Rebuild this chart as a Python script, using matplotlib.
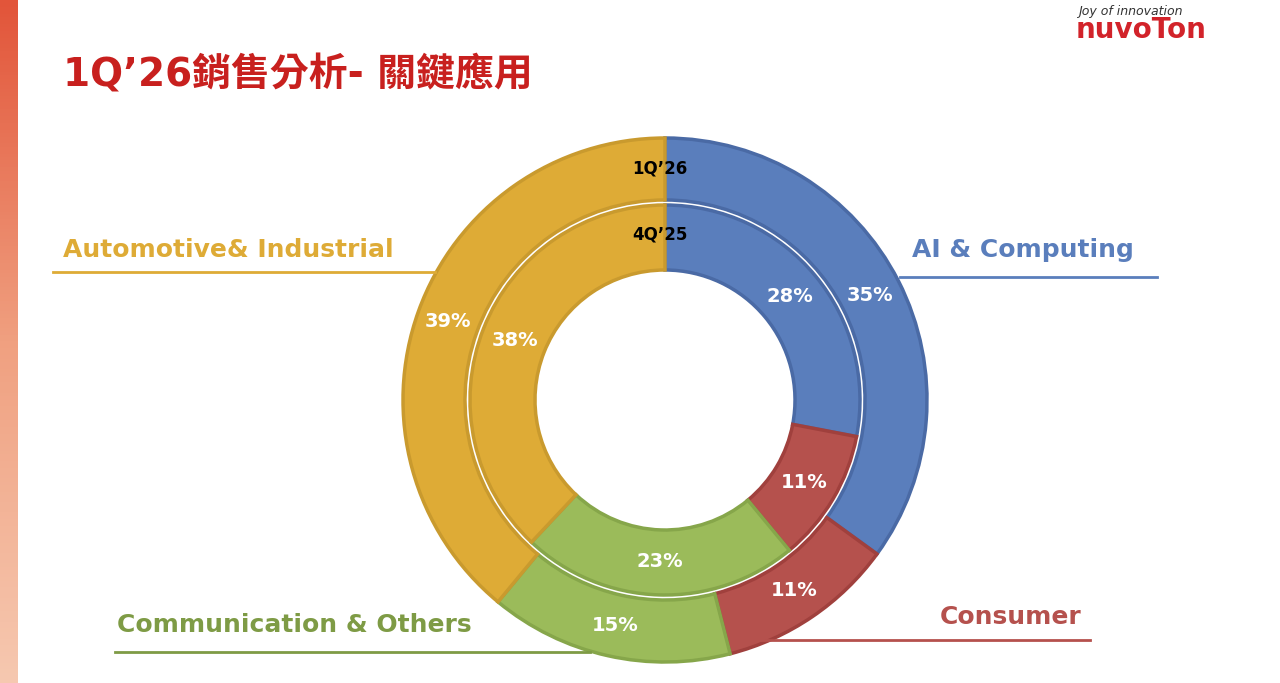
import matplotlib
matplotlib.use("Agg")
import matplotlib.pyplot as plt
import numpy as np
from matplotlib.colors import LinearSegmentedColormap

categories = ["AI & Computing", "Consumer", "Communication & Others", "Automotive& Industrial"]
q1_26 = [35, 11, 15, 39]
q4_25 = [28, 11, 23, 38]
colors = ["#5A7EBC", "#B5514D", "#9BBB5A", "#DEAB36"]
edges = ["#4A6AA5", "#A0403D", "#86A64A", "#C99A2E"]

W, H = 1280, 683
fig = plt.figure(figsize=(12.8, 6.83), dpi=100)
ax = fig.add_axes([0, 0, 1, 1])
ax.set_xlim(0, W); ax.set_ylim(0, H); ax.set_aspect('equal'); ax.axis('off')

def Y(y): return H - y

grad = np.linspace(0, 1, 200).reshape(-1, 1)
cm = LinearSegmentedColormap.from_list("s", ["#E2553A", "#F0A080", "#F6C8B0"])
ax.imshow(grad, extent=[0, 18, 0, H], cmap=cm, aspect='auto', origin='upper', zorder=0)

cx, cy = 665, Y(400)
R1, R2 = 262, 195
for vals, R, w, pd in [(q1_26, R1, 62, 0.88), (q4_25, R2, 65, 0.83)]:
    wedges, texts, autot = ax.pie(vals, colors=colors, startangle=90, counterclock=False,
        radius=R, center=(cx, cy), autopct='%d%%', pctdistance=pd,
        wedgeprops=dict(width=w, linewidth=2.5), textprops=dict(color='white', fontsize=14, fontweight='bold'))
    for wd, e in zip(wedges, edges):
        wd.set_edgecolor(e)
ax.set_xlim(0, W); ax.set_ylim(0, H)

ax.text(660, Y(168), "1Q’26", ha='center', va='center', fontsize=12, fontweight='bold')
ax.text(660, Y(235), "4Q’25", ha='center', va='center', fontsize=12, fontweight='bold')

labels = [
    ("AI & Computing", 912, 250, 900, 1157, 277, colors[0]),
    ("Consumer", 940, 617, 730, 1090, 640, colors[1]),
    ("Communication & Others", 117, 625, 115, 590, 652, "#7E9B45"),
    ("Automotive& Industrial", 63, 250, 53, 435, 272, colors[3]),
]
for t, x, y, x0, x1, ly, c in labels:
    ax.text(x, Y(y), t, ha='left', va='center', fontsize=18, fontweight='bold', color=c)
    ax.plot([x0, x1], [Y(ly), Y(ly)], color=c, lw=2)

ax.text(63, Y(75), "1Q’26銷售分析- 關鍵應用", ha='left', va='center', fontsize=28,
        fontweight='bold', color="#C8201E", family=['DejaVu Sans', 'Noto Sans CJK TC'])
ax.text(1078, Y(12), "Joy of innovation", ha='left', va='center', fontsize=9, style='italic', color='#333333')
ax.text(1076, Y(30), "nuvoTon", ha='left', va='center', fontsize=20, fontweight='bold', color='#D2232A')

fig.savefig("out.png", dpi=100)
